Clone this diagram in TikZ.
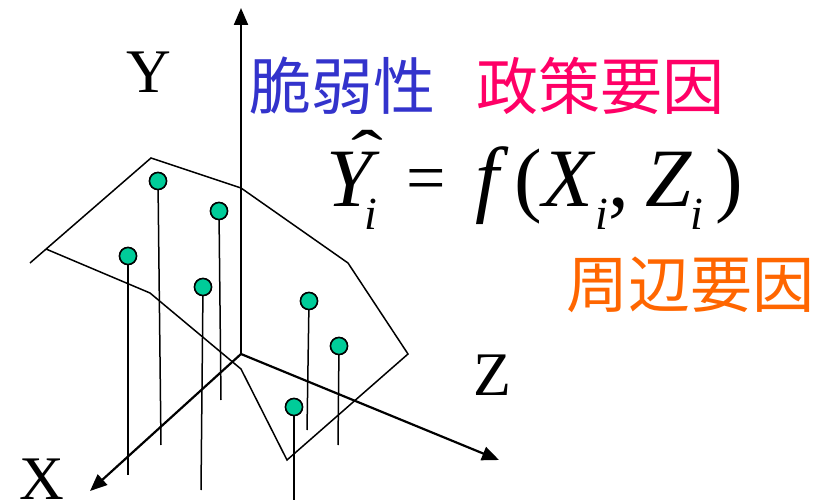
\documentclass[tikz,border=0pt]{standalone}
\usepackage{fontspec}
\usepackage{graphicx}
\setmainfont{Liberation Serif}
\newfontfamily\cjk{Noto Sans CJK JP}
\usetikzlibrary{arrows.meta}
\definecolor{cblue}{RGB}{51,51,204}
\definecolor{cpink}{RGB}{255,0,102}
\definecolor{corange}{RGB}{255,102,0}
\definecolor{cteal}{RGB}{0,204,153}
\tikzset{
  axis/.style={line width=2.2pt,-{Triangle[length=17pt,width=14pt]}},
  surf/.style={line width=1.5pt,line join=miter},
  stem/.style={line width=1.5pt},
  dot/.style={circle,draw=black,line width=1.5pt,fill=cteal,minimum size=17pt,inner sep=0pt},
  axlabel/.style={font=\fontsize{62pt}{62pt}\selectfont,inner sep=0pt,anchor=base},
  cjklabel/.style={font=\cjk\fontsize{62pt}{62pt}\selectfont,inner sep=0pt},
  fm/.style={inner sep=0pt,anchor=base west,font=\fontsize{83pt}{83pt}\selectfont},
  fmi/.style={inner sep=0pt,anchor=base west,font=\fontsize{83pt}{83pt}\selectfont\itshape},
  fsub/.style={inner sep=0pt,anchor=base west,font=\fontsize{46pt}{46pt}\selectfont\itshape},
}
\begin{document}
\begin{tikzpicture}[x=1pt,y=-1pt]
\useasboundingbox (0,0) rectangle (828,500);
% surface
\coordinate (s0) at (30,263);
\coordinate (s1) at (46,249);
\coordinate (s2) at (151,158);
\coordinate (s3) at (241,188);
\coordinate (s4) at (348,263);
\coordinate (s5) at (408,354);
\coordinate (s6) at (287,460);
\coordinate (s7) at (241,369);
\coordinate (s8) at (150,293);
\draw[surf] (s0) -- (s2) -- (s3) -- (s4) -- (s5) -- (s6) -- (s7) -- (s8) -- (s1);
% axes
\coordinate (o) at (241,354);
\coordinate (ytip) at (241,8);
\coordinate (xtip) at (90,491);
\coordinate (ztip) at (499,460);
\draw[axis] (o) -- (ytip);
\draw[axis] (o) -- (xtip);
\draw[axis] (o) -- (ztip);
% stems and points
\coordinate (b1) at (161,445);
\coordinate (b2) at (221,400);
\coordinate (b3) at (128,475);
\coordinate (b4) at (201,490);
\coordinate (b5) at (307,430);
\coordinate (b6) at (338,445);
\coordinate (b7) at (294,502);
\node[dot] (p1) at (158,181) {};
\node[dot] (p2) at (219,211) {};
\node[dot] (p3) at (128,256) {};
\node[dot] (p4) at (203,287) {};
\node[dot] (p5) at (309,301) {};
\node[dot] (p6) at (339,346) {};
\node[dot] (p7) at (294,407) {};
\foreach \i in {1,...,7}{\draw[stem] (p\i.center) -- (b\i);}
\foreach \i in {1,...,7}{\node[dot] at (p\i) {};}
% axis labels
\node[axlabel] (ly) at (148.5,93) {Y};
\node[axlabel] (lx) at (42,499) {X};
\node[axlabel] (lz) at (492,395) {Z};
% CJK labels
\node[cjklabel,text=cblue] (t1) at (342,86) {脆弱性};
\node[cjklabel,text=cpink] (t2) at (600,86) {政策要因};
\node[cjklabel,text=corange] (t3) at (690,285) {周辺要因};
% formula
\node[fmi] (fY) at (326.5,207) {Y};
\node[fm] (fhat) at (351,177) {\scalebox{1.15}[0.8]{ˆ}};
\node[fsub] (fi1) at (364.7,229.5) {i};
\node[inner sep=0pt,anchor=base west,font=\fontsize{70pt}{70pt}\selectfont] (feq) at (406,202) {=};
\node[fmi,font=\fontsize{85pt}{85pt}\selectfont\itshape] (ff) at (475.5,207) {f};
\node[fm] (fl) at (514,207) {(};
\node[fmi] (fX) at (542.4,207) {X};
\node[fsub] (fi2) at (595.7,229.5) {i};
\node[fm] (fc) at (608,207) {,};
\node[fmi] (fZ) at (645.5,207) {Z};
\node[fsub] (fi3) at (690.7,229.5) {i};
\node[fm] (fr) at (715.6,207) {)};
\end{tikzpicture}
\end{document}
